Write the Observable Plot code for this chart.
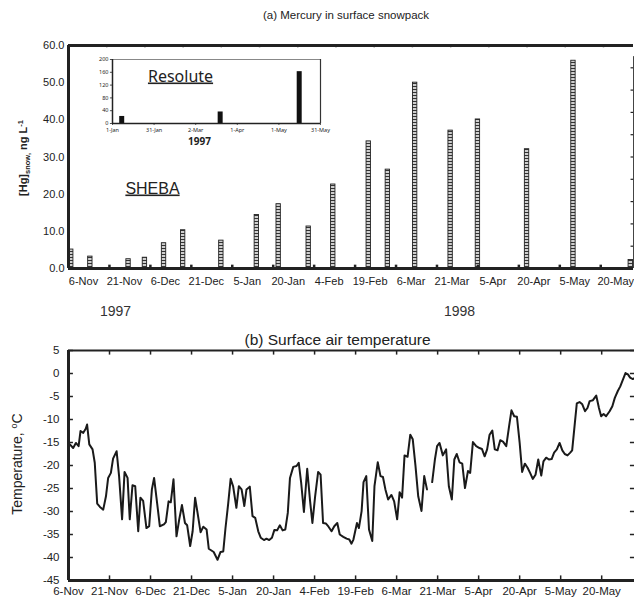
<!DOCTYPE html>
<html><head><meta charset="utf-8">
<script src="https://cdn.jsdelivr.net/npm/d3@7"></script>
<script src="https://cdn.jsdelivr.net/npm/@observablehq/plot@0.6"></script>
<style>
body{margin:0;background:#fff;font-family:"Liberation Sans",Arial,sans-serif;}
#wrap{width:634px;height:598px;overflow:hidden;}
svg{display:block}
</style></head><body><div id="wrap"></div>
<script>
// ---- data ----
const tickDates = ["1997-11-06","1997-11-21","1997-12-06","1997-12-21","1998-01-05","1998-01-20","1998-02-04","1998-02-19","1998-03-06","1998-03-21","1998-04-05","1998-04-20","1998-05-05","1998-05-20"];
const tickLabels = ["6-Nov","21-Nov","6-Dec","21-Dec","5-Jan","20-Jan","4-Feb","19-Feb","6-Mar","21-Mar","5-Apr","20-Apr","5-May","20-May"];
const hgDates = ["1997-11-07","1997-11-14","1997-11-28","1997-12-04","1997-12-11","1997-12-18","1998-01-01","1998-01-14","1998-01-22","1998-02-02","1998-02-11","1998-02-24","1998-03-03","1998-03-13","1998-03-26","1998-04-05","1998-04-23","1998-05-10","1998-05-31"];
const hgValues = [5.1,3.2,2.5,2.9,6.8,10.3,7.5,14.4,17.3,11.3,22.6,34.2,26.6,50.0,37.1,40.1,32.1,55.9,2.3];
const hgTicks = [0,10,20,30,40,50,60];
const hgRightTicks = [6,12,18,24,30,36,42,48,54];
const hgTopTickDays = [14,28,42,56,70,84,98,112,126,140,154,168,182,196];
const resoluteDates = ["1997-01-08","1997-03-20","1997-05-16"];
const resoluteValues = [22,36,162];
const resoluteTicks = [0,40,80,120,160,200];
const resoluteTickDates = ["1997-01-01","1997-01-31","1997-03-02","1997-04-01","1997-05-01","1997-05-31"];
const resoluteTickLabels = ["1-Jan","31-Jan","2-Mar","1-Apr","1-May","31-May"];
const tempTicks = [5,0,-5,-10,-15,-20,-25,-30,-35,-40,-45];
// days since 6-Nov-1997
const tempDays = [0.5,1.7,2.7,3.7,4.4,5.4,6.3,6.8,7.6,8.8,
9.6,10.5,11.5,12.7,13.7,14.5,15.5,16.3,17.6,18.5,
19.6,20.5,21.6,22.4,23.4,24.4,25.5,26.3,27.3,28.5,
29.5,30.5,31.3,32.4,33.4,34.9,35.6,36.6,37.4,38.4,
39.5,40.5,41.5,42.6,43.4,44.5,45.4,46.3,47.2,48.3,
49.3,50.5,51.3,53.1,54.5,55.6,56.6,57.4,58.4,59.3,
60.2,61.4,62.3,63.3,64.3,65.1,66.3,67.3,68.3,69.4,
70.3,71.5,72.4,73.4,74.4,75.3,76.3,77.3,78.3,79.3,
80.2,81.0,82.2,83.4,84.2,85.1,86.1,87.3,88.3,89.2,
90.2,91.3,92.2,93.1,94.1,95.1,96.2,97.2,98.3,99.2,
100.5,101.7,102.7,103.5,104.2,105.5,106.2,107.2,107.9,108.9,
109.9,111.1,111.9,113.1,114.1,115.0,115.9,116.9,118.1,119.1,
120.2,121.1,122.0,122.9,124.0,125.0,125.9,126.9,127.9,129.1,
130.1,131.1,132.0,133.0,134.0,134.8,135.7,136.9,138.1,139.1,
140.2,141.1,142.0,143.0,144.0,145.0,146.1,146.9,147.9,149.1,
150.3,151.2,152.2,153.1,154.0,155.0,155.9,156.9,157.9,158.9,
160.1,161.1,162.0,163.0,164.0,165.0,165.9,166.9,167.9,168.9,
169.8,170.8,171.8,172.9,173.7,174.7,175.7,176.7,177.6,178.6,
179.6,180.6,181.5,182.5,183.5,184.2,185.2,185.9,186.9,187.9,
188.9,189.8,190.6,191.8,193.0,194.0,194.8,195.7,196.6,197.9,
198.9,199.8,200.9,201.8,202.8,203.7,204.6,205.4,206.4,207.0];
const tempValues = [-15.4,-16.2,-15.1,-15.8,-12.5,-12.9,-12.0,-11.1,-15.4,-16.5,
-19.4,-28.3,-29.0,-29.6,-26.7,-22.7,-21.6,-18.5,-16.9,-22.3,
-31.7,-21.4,-22.7,-31.7,-24.3,-24.5,-34.3,-27.0,-27.7,-33.6,
-33.2,-25.2,-22.7,-28.1,-33.2,-32.8,-32.3,-27.8,-28.0,-23.0,
-35.4,-31.7,-28.6,-32.5,-33.0,-37.5,-34.3,-27.0,-30.3,-34.5,
-33.3,-33.9,-38.1,-38.8,-40.5,-38.8,-38.7,-33.7,-28.3,-22.9,
-24.5,-29.2,-24.5,-25.2,-28.8,-25.2,-24.6,-31.0,-31.4,-34.3,
-35.7,-36.2,-35.9,-36.2,-35.7,-34.0,-34.1,-33.0,-34.1,-33.9,
-30.3,-22.7,-20.3,-20.1,-19.4,-23.8,-30.1,-20.7,-27.4,-32.5,
-26.7,-21.4,-22.0,-32.5,-32.6,-33.3,-34.3,-33.2,-32.5,-35.0,
-35.5,-35.9,-36.1,-37.0,-36.1,-32.5,-33.6,-29.9,-23.6,-22.3,
-33.9,-36.4,-24.5,-19.3,-22.3,-22.5,-25.2,-27.4,-26.4,-27.8,
-31.7,-25.8,-27.0,-17.8,-18.1,-13.3,-14.3,-20.1,-26.7,-29.9,
-22.3,-25.2,null,-23.6,-18.7,-15.8,-15.1,-17.8,-16.5,-24.5,
-27.4,-18.7,-17.5,-19.3,-19.6,-24.9,-21.2,-21.6,-14.9,-15.8,
-16.2,-16.4,-18.0,-16.5,-13.3,-12.4,-16.5,-16.7,-14.5,-14.8,
-15.8,-11.6,-8.0,-9.3,-9.4,-15.1,-21.4,-19.6,-20.5,-21.7,
-22.9,-22.0,-18.7,-22.2,-19.1,-18.3,-18.7,-18.6,-17.2,-16.5,
-15.1,-16.7,-17.5,-17.8,-17.2,-16.7,-10.7,-6.5,-6.2,-6.7,
-8.2,-7.5,-6.0,-5.8,-4.8,-7.5,-9.3,-8.8,-9.3,-8.2,
-7.1,-5.3,-3.8,-2.8,-1.3,0.1,-0.2,-0.9,-1.2,-1.0];

// ---- build ----
const DAY = 864e5;
const FONT = '"Liberation Sans", Arial, sans-serif';
const INK = "#222";
const start = new Date("1997-11-06"), end = new Date("1998-06-01");
const off = (d, n) => new Date(+d + n * DAY);
const ticks = tickDates.map((d, i) => ({date: new Date(d), label: tickLabels[i]}));
const hg = hgDates.map((d, i) => ({date: new Date(d), value: hgValues[i]}));
const temps = tempDays.map((d, i) => ({date: off(start, d), t: tempValues[i]}));
const res = resoluteDates.map((d, i) => ({date: new Date(d), value: resoluteValues[i]}));
const resTicks = resoluteTickDates.map((d, i) => ({date: new Date(d), label: resoluteTickLabels[i]}));
const rStart = new Date("1997-01-01"), rEnd = new Date("1997-05-31");

const wrap = document.getElementById("wrap");

// Top chart (a)
const topSvg = Plot.plot({
  width: 634, height: 325, marginLeft: 68, marginRight: 1, marginTop: 45, marginBottom: 57,
  style: {fontFamily: FONT, color: INK, background: "white", overflow: "visible"},
  x: {type: "utc", domain: [start, end], axis: null},
  y: {domain: [0, 60], axis: null},
  marks: [
    Plot.rectY(hg, {x1: d => off(d.date, -0.8), x2: d => off(d.date, 0.8), y1: 0, y2: "value",
      fill: "url(#ladder)", stroke: INK, strokeWidth: 0.9}),
    Plot.ruleY([0], {stroke: INK, strokeWidth: 3}),
    Plot.ruleY([60], {stroke: INK, strokeWidth: 3}),
    Plot.ruleX([start], {stroke: INK, strokeWidth: 3}),
    Plot.ruleX([end], {stroke: "#444", strokeWidth: 1, y1: 0, y2: 57}),
    Plot.ruleX(ticks.slice(1), {x: "date", y1: 0, y2: 0.9, stroke: INK, strokeWidth: 2.5}),
    Plot.ruleX(hgTopTickDays, {x: d => off(start, d), y1: 60, y2: 59.4, stroke: INK, strokeWidth: 1.5}),
    Plot.ruleY(hgRightTicks, {y: d => d, x1: off(end, -0.9), x2: end, stroke: INK, strokeWidth: 1.2}),
    Plot.text(hgTicks, {y: d => d, text: d => d.toFixed(1), frameAnchor: "left", textAnchor: "end", dx: -4, fontSize: 11}),
    Plot.text(ticks, {x: "date", text: "label", frameAnchor: "bottom", lineAnchor: "middle", dy: 13, dx: 15, fontSize: 11}),
    Plot.text(["(a) Mercury in surface snowpack"], {frameAnchor: "top", lineAnchor: "middle", dx: -5, dy: -30, fontSize: 11.5}),
    Plot.text(["SHEBA"], {frameAnchor: "top-left", dx: 84, dy: 148, textAnchor: "middle", lineAnchor: "bottom", fontSize: 16}),
    Plot.text(["1997"], {frameAnchor: "bottom-left", lineAnchor: "middle", dx: 47, dy: 43, textAnchor: "middle", fontSize: 14, fill: "#333"}),
    Plot.text(["1998"], {frameAnchor: "bottom-left", lineAnchor: "middle", dx: 391, dy: 43, textAnchor: "middle", fontSize: 14, fill: "#333"})
  ]
});
topSvg.insertAdjacentHTML("afterbegin",
  '<defs><pattern id="ladder" patternUnits="userSpaceOnUse" width="6" height="3">' +
  '<rect width="6" height="3" fill="#cfcfcf"/><rect y="2" width="6" height="1" fill="#333"/></pattern></defs>');

// Inset (Resolute)
const inset = Plot.plot({
  width: 245, height: 100, marginLeft: 32, marginRight: 5, marginTop: 9, marginBottom: 27,
  style: {fontFamily: FONT, color: INK, overflow: "visible"},
  x: {type: "utc", domain: [rStart, rEnd], axis: null},
  y: {domain: [0, 200], axis: null},
  marks: [
    Plot.rectY(res, {x1: d => off(d.date, -1.8), x2: d => off(d.date, 1.8), y1: 0, y2: "value", fill: "#111"}),
    Plot.ruleY([200], {stroke: "#888", strokeWidth: 1.2}),
    Plot.ruleX([rEnd], {stroke: "#333", strokeWidth: 1.2}),
    Plot.ruleY([0], {stroke: INK, strokeWidth: 1.5}),
    Plot.ruleX([rStart], {stroke: INK, strokeWidth: 1.5}),
    Plot.ruleY(resoluteTicks, {y: d => d, x1: off(rStart, -1.5), x2: rStart, stroke: INK, strokeWidth: 0.8}),
    Plot.ruleX(resTicks, {x: "date", y1: 0, y2: -6, stroke: INK, strokeWidth: 0.8}),
    Plot.text(resoluteTicks, {y: d => d, text: d => String(d), frameAnchor: "left", textAnchor: "end", dx: -4, fontSize: 5.5}),
    Plot.text(resTicks, {x: "date", text: "label", frameAnchor: "bottom", lineAnchor: "middle", dy: 7, fontSize: 5.5}),
    Plot.text(["Resolute"], {frameAnchor: "top-left", dx: 68, dy: 22, textAnchor: "middle", lineAnchor: "bottom", fontSize: 16}),
    Plot.text(["1997"], {frameAnchor: "bottom-left", lineAnchor: "middle", dx: 87, dy: 18, textAnchor: "middle", fontSize: 10, fontWeight: "bold"})
  ]
});
// move inset content into a translated group of the top chart
const g = document.createElementNS("http://www.w3.org/2000/svg", "g");
for (const a of ["class", "fill", "font-family", "font-size", "text-anchor"]) {
  if (inset.getAttribute(a)) g.setAttribute(a, inset.getAttribute(a));
}
g.setAttribute("transform", "translate(80,50)");
while (inset.firstChild) g.appendChild(inset.firstChild);
topSvg.appendChild(g);

// Bottom chart (b)
const botSvg = Plot.plot({
  width: 634, height: 273, marginLeft: 68, marginRight: 0, marginTop: 25, marginBottom: 18,
  style: {fontFamily: FONT, color: INK, background: "white", overflow: "visible"},
  x: {type: "utc", domain: [start, end], axis: null},
  y: {domain: [-45, 5], axis: null},
  marks: [
    Plot.line(temps, {x: "date", y: "t", stroke: "#1a1a1a", strokeWidth: 2}),
    Plot.ruleX([start], {stroke: INK, strokeWidth: 3}),
    Plot.ruleY([-45], {stroke: INK, strokeWidth: 3}),
    Plot.ruleY([5], {stroke: INK, strokeWidth: 2}),
    Plot.ruleX(ticks, {x: "date", y1: -45, y2: -44, stroke: INK, strokeWidth: 1.5}),
    Plot.ruleX(ticks, {x: "date", y1: 5, y2: 4, stroke: INK, strokeWidth: 1.5}),
    Plot.ruleY(tempTicks, {y: d => d, x1: start, x2: off(start, 1.8), stroke: INK, strokeWidth: 1.5}),
    Plot.ruleY(tempTicks, {y: d => d, x1: off(end, -1.5), x2: end, stroke: INK, strokeWidth: 1.5}),
    Plot.text(tempTicks, {y: d => d, text: d => String(d), frameAnchor: "left", textAnchor: "end", dx: -9, fontSize: 11.5}),
    Plot.text(ticks, {x: "date", text: "label", frameAnchor: "bottom", lineAnchor: "middle", dy: 11, fontSize: 11.5}),
    Plot.text(["(b) Surface air temperature"], {frameAnchor: "top", lineAnchor: "middle", dx: -14, dy: -10, fontSize: 15.5})
  ]
});

wrap.appendChild(topSvg);
wrap.appendChild(botSvg);

// underlined labels
d3.selectAll("text").filter(function() { return this.textContent === "SHEBA" || this.textContent === "Resolute"; })
  .attr("text-decoration", "underline").style("text-decoration", "underline");

// rotated axis titles with sub/superscripts
function rotLabel(svg, x, y, size, weight, parts) {
  const t = d3.select(svg).append("text")
    .attr("transform", `translate(${x},${y}) rotate(-90)`)
    .attr("text-anchor", "middle").attr("font-size", size).attr("font-weight", weight)
    .attr("font-family", FONT).attr("fill", INK);
  parts.forEach(p => {
    const s = t.append("tspan").text(p.t);
    if (p.dy) s.attr("dy", p.dy);
    if (p.size) s.attr("font-size", p.size);
  });
}
rotLabel(topSvg, 27, 158, 11, "bold", [
  {t: "[Hg]"}, {t: "snow,", dy: 3, size: 7.5}, {t: " ng L", dy: -3}, {t: "-1", dy: -4, size: 7.5}
]);
rotLabel(botSvg, 22, 139, 14, "normal", [
  {t: "Temperature, "}, {t: "o", dy: -5, size: 9}, {t: "C", dy: 5}
]);
</script></body></html>
